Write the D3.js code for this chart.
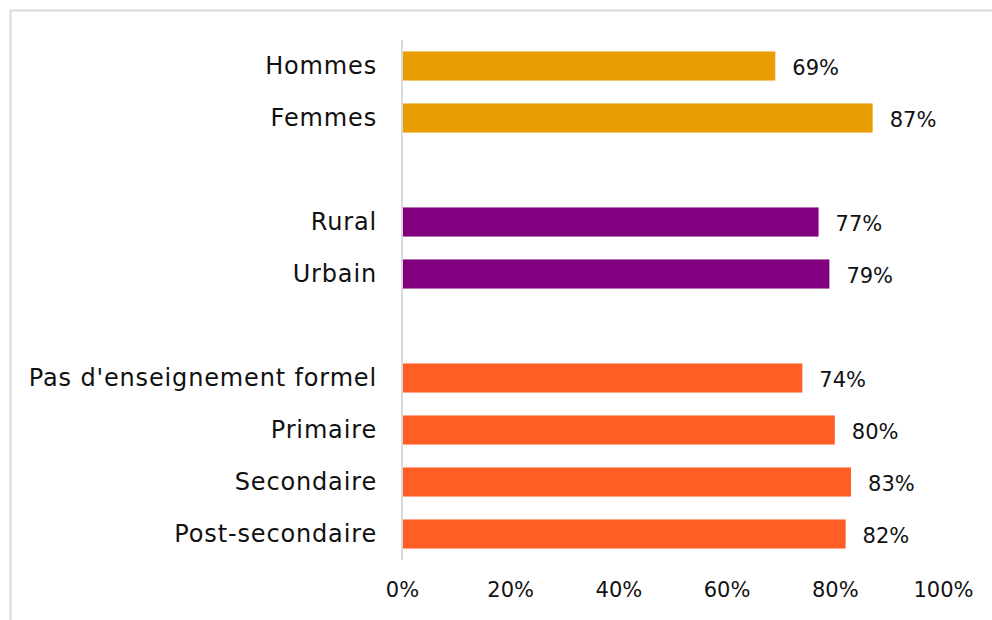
<!DOCTYPE html>
<html><head><meta charset="utf-8">
<script src="https://cdn.jsdelivr.net/npm/d3@7"></script>
<style>body{margin:0;background:#fff}svg{display:block}</style>
</head><body><div id="chart"></div>
<script>
const categories = ["Hommes","Femmes","_gap1","Rural","Urbain","_gap2","Pas d'enseignement formel","Primaire","Secondaire","Post-secondaire"];
const values = [69,87,null,77,79,null,74,80,83,82];
const groups = ["sexe","sexe",null,"milieu","milieu",null,"educ","educ","educ","educ"];
const groupColors = {sexe:"#E89D00", milieu:"#80007F", educ:"#FF5E24"};
const tickValues = [0,20,40,60,80,100];

const W=992,H=620;
const font = "'DejaVu Sans', sans-serif";
const svg = d3.select("#chart").append("svg").attr("width",W).attr("height",H);
svg.append("rect").attr("width",W).attr("height",H).attr("fill","#fff");
svg.append("path").attr("d","M10.5,"+H+"V10.5H"+W).attr("fill","none").attr("stroke","#d9d9d9").attr("stroke-width",2);

const x = d3.scaleLinear().domain([0,100]).range([402,943]);
const y = d3.scaleBand().domain(categories).range([40,560]).paddingInner(0.44).paddingOuter(0.22);

const data = categories.map((c,i)=>({c, v:values[i], g:groups[i]})).filter(d=>d.v!=null);

svg.selectAll("rect.bar").data(data).enter().append("rect").attr("class","bar")
  .attr("x",x(0)).attr("y",d=>y(d.c)).attr("width",d=>x(d.v)-x(0)).attr("height",y.bandwidth())
  .attr("fill",d=>groupColors[d.g]);

svg.append("line").attr("x1",x(0)).attr("x2",x(0)).attr("y1",40).attr("y2",560)
  .attr("stroke","#d9d9d9").attr("stroke-width",2);

svg.selectAll("text.cat").data(data).enter().append("text").attr("class","cat")
  .attr("x",377).attr("y",d=>y(d.c)+y.bandwidth()/2).attr("dy","0.35em")
  .attr("text-anchor","end").attr("font-family",font).attr("font-size",24)
  .attr("letter-spacing",0.85).attr("fill","#111")
  .text(d=>d.c);

svg.selectAll("text.val").data(data).enter().append("text").attr("class","val")
  .attr("x",d=>x(d.v)+17).attr("y",d=>y(d.c)+y.bandwidth()/2+2).attr("dy","0.35em")
  .attr("font-family",font).attr("font-size",21).attr("fill","#111")
  .text(d=>d.v+"%");

const axis = d3.axisBottom(x).tickValues(tickValues).tickFormat(d=>d+"%").tickSize(0).tickPadding(0);
const gx = svg.append("g").attr("transform","translate(0,582)").call(axis);
gx.select(".domain").remove();
gx.selectAll("text").attr("font-family",font).attr("font-size",21).attr("fill","#111").attr("dy","0.71em");
</script></body></html>
